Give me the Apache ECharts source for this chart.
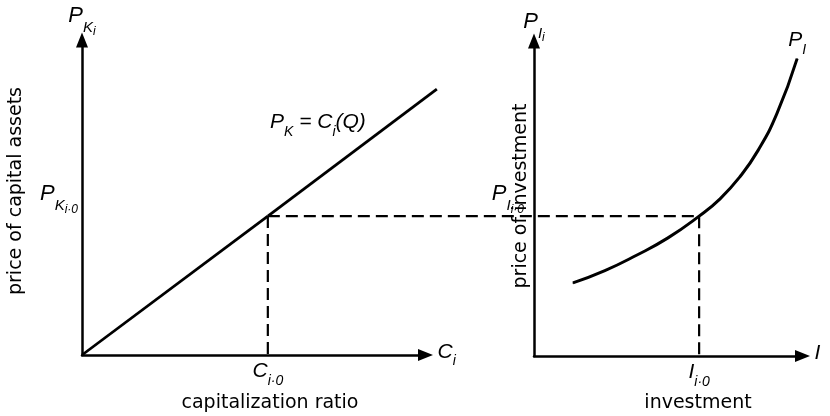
<!DOCTYPE html>
<html>
<head>
<meta charset="utf-8">
<script src="https://cdn.jsdelivr.net/npm/echarts@6/dist/echarts.min.js"></script>
<style>
  html, body { margin: 0; padding: 0; background: #fff; }
  #chart { width: 830px; height: 416px; }
</style>
</head>
<body>
<div id="chart"></div>
<script>
// left panel: price of capital assets vs capitalization ratio
var capLine = [[0, 0], [5.41, 4.41], [10.33, 8.44]];
var C0 = 5.41, PK0 = 4.41;
// right panel: price of investment curve
var invCurve = [[1.45, 2.32], [2.64, 2.71], [3.80, 3.19], [4.99, 3.75], [6.15, 4.44],
                [6.93, 4.99], [7.67, 5.69], [8.34, 6.52], [9.05, 7.70], [9.80, 9.44]];
var I0 = 6.15, PI0 = 4.44;

var FONT = 'DejaVu Sans';
var IFONT = 'Liberation Sans';
var black = '#000';
var chart = echarts.init(document.getElementById('chart'), null, { renderer: 'canvas' });

// rich styles for the italic symbols with subscripts
function tok(size, pad) {
    return { fontSize: size, fontStyle: 'italic', fontFamily: IFONT, color: black, verticalAlign: 'bottom', padding: [0, 0, pad, 0] };
}
var rich = {
    P2: tok(22, 11),
    S1: tok(15, 3),
    S2: tok(12, 0),
    P1: tok(21, 6),
    sub: tok(14, 0)
};

function axisLineStyle() {
    return {
        show: true,
        onZero: false,
        symbol: ['none', 'triangle'],
        symbolSize: [12, 15],
        lineStyle: { color: black, width: 2.5 }
    };
}

function xAxisOf(gi, name, tickVal, tickText) {
    return {
        type: 'value', gridIndex: gi, min: 0, max: 10,
        axisLine: axisLineStyle(),
        axisTick: { show: false },
        splitLine: { show: false },
        axisLabel: {
            show: true, customValues: [tickVal], margin: 6,
            formatter: function () { return tickText; },
            rich: rich
        },
        name: name, nameLocation: 'end', nameGap: 12,
        nameTextStyle: { rich: rich, align: 'left', verticalAlign: 'middle' }
    };
}

function yAxisOf(gi, name, tickVal, tickText, labelGap, nameGap) {
    return {
        type: 'value', gridIndex: gi, min: 0, max: 10,
        axisLine: axisLineStyle(),
        axisTick: { show: false },
        splitLine: { show: false },
        axisLabel: {
            show: true, customValues: [tickVal], margin: labelGap,
            verticalAlign: 'bottom',
            formatter: function () { return tickText; },
            rich: rich
        },
        name: name, nameLocation: 'end', nameGap: nameGap,
        nameTextStyle: { rich: rich, align: 'center', verticalAlign: 'bottom' }
    };
}

function toSegments(pts) {
    var segs = [];
    for (var i = 0; i < pts.length - 1; i++) {
        segs.push([pts[i][0], pts[i][1], pts[i + 1][0], pts[i + 1][1]]);
    }
    return segs;
}

// straight segments drawn through the axis scales, not clipped to the grid
function segSeries(gi, pts, dash, width, endText) {
    return {
        type: 'custom', coordinateSystem: 'cartesian2d',
        xAxisIndex: gi, yAxisIndex: gi, clip: false, silent: true,
        data: toSegments(pts),
        renderItem: function (params, api) {
            var a = api.coord([api.value(0), api.value(1)]);
            var b = api.coord([api.value(2), api.value(3)]);
            var line = {
                type: 'line',
                shape: { x1: a[0], y1: a[1], x2: b[0], y2: b[1] },
                style: { stroke: black, lineWidth: width, lineDash: dash || null, fill: null }
            };
            if (!endText || params.dataIndex !== params.dataInsideLength - 1) return line;
            return {
                type: 'group',
                children: [line, {
                    type: 'text', x: b[0] - 71, y: b[1] + 36,
                    style: { text: endText, rich: rich, align: 'right', verticalAlign: 'middle' }
                }]
            };
        }
    };
}

function sideText(txt, x, y, rot) {
    return {
        type: 'text', x: x, y: y, rotation: rot || 0,
        style: { text: txt, font: '19px "' + FONT + '"', fill: black, align: 'center', verticalAlign: 'middle' }
    };
}

var option = {
    animation: false,
    backgroundColor: '#fff',
    grid: [
        { left: 82, top: 40, width: 343.5, height: 315 },
        { left: 534, top: 41, width: 268.5, height: 315 }
    ],
    xAxis: [
        xAxisOf(0, '{P1|C}{sub|i}', C0, '{P1|C}{sub|i·0}'),
        xAxisOf(1, '{P1|I}', I0, '{P1|I}{sub|i·0}')
    ],
    yAxis: [
        yAxisOf(0, '{P2|P}{S1|K}{S2|i}', PK0, '{P2|P}{S1|K}{S2|i·0}', 4, 2),
        yAxisOf(1, '{P2|P}{S1|I}{S2|i}', PI0, '{P2|P}{S1|I}{S2|i·0}', 10, -3)
    ],
    series: [
        segSeries(0, capLine, null, 2.8, '{P1|P}{sub|K}{P1| = C}{sub|i}{P1|(Q)}'),
        segSeries(0, [[C0, PK0], [C0, 0]], [12, 6], 2.2),
        segSeries(0, [[C0, PK0], [C0, PK0]], [12, 6], 2.2),
        {
            type: 'line', xAxisIndex: 1, yAxisIndex: 1, smooth: true,
            symbol: 'circle', symbolSize: 1, silent: true,
            itemStyle: { color: black },
            lineStyle: { color: black, width: 3 },
            data: invCurve.map(function (p, i) {
                if (i !== invCurve.length - 1) return p;
                return {
                    value: p,
                    label: {
                        show: true, position: 'top', distance: 1,
                        formatter: '{P1|P}{sub|I}', rich: rich
                    }
                };
            })
        },
        segSeries(1, [[I0, PI0], [I0, 0]], [12, 6], 2.2)
    ],
    graphic: [
        sideText('price of capital assets', 16, 191, Math.PI / 2),
        sideText('capitalization ratio', 270, 403),
        sideText('price of investment', 521, 196, Math.PI / 2),
        sideText('investment', 698, 403)
    ]
};

chart.setOption(option);

// horizontal dashed link from the left line to the right curve at the same price level
var linkEnd = chart.convertFromPixel({ gridIndex: 0 }, chart.convertToPixel({ gridIndex: 1 }, [I0, PI0]));
chart.setOption({
    series: [{}, {}, { data: toSegments([[C0, PK0], [linkEnd[0], PK0]]) }]
});
</script>
</body>
</html>
